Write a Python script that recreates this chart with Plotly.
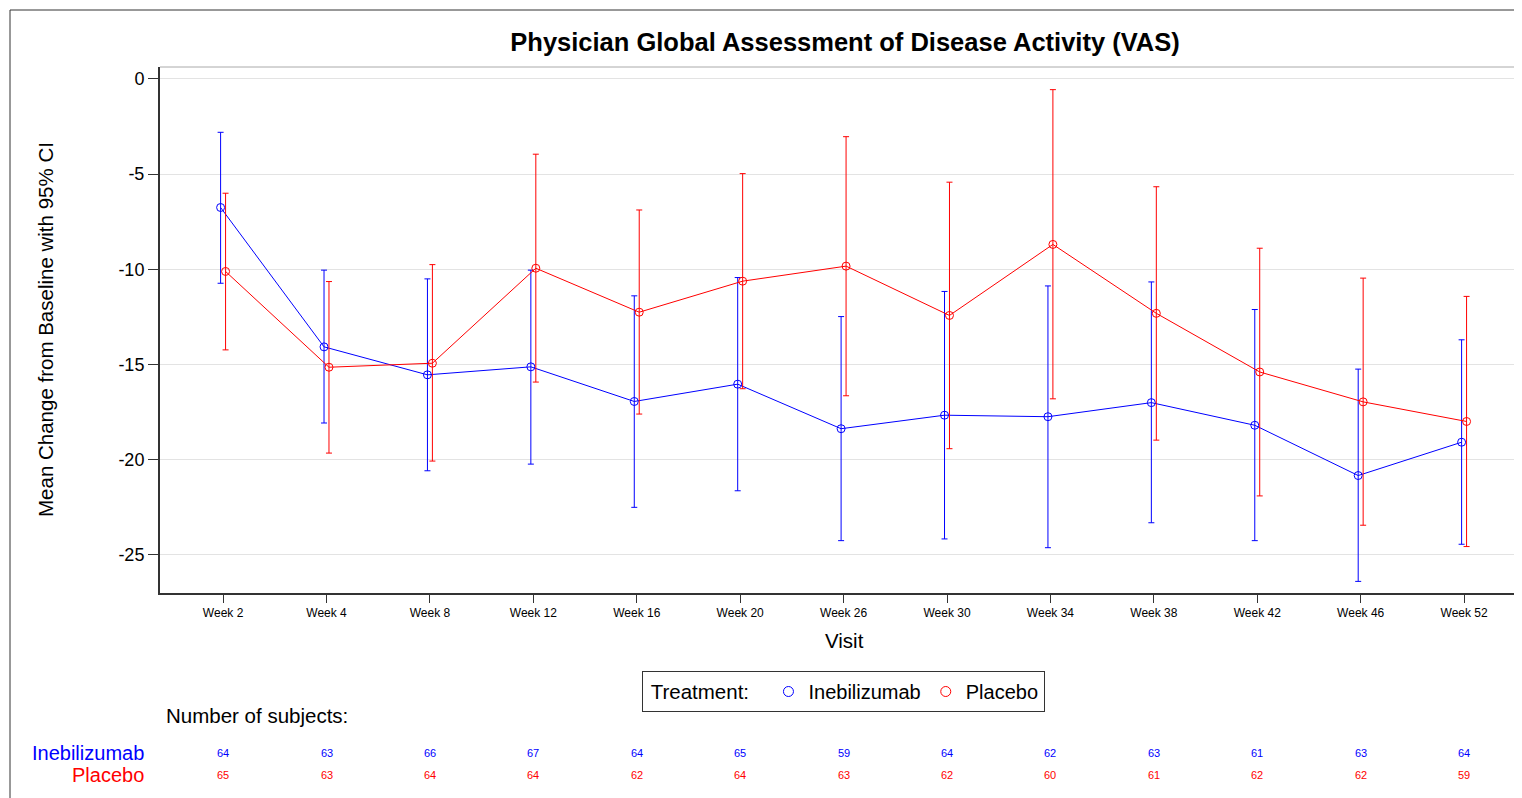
import plotly.graph_objects as go

visits = ["Week 2", "Week 4", "Week 8", "Week 12", "Week 16", "Week 20", "Week 26",
          "Week 30", "Week 34", "Week 38", "Week 42", "Week 46", "Week 52"]

ineb_mean = [-6.75, -14.07, -15.54, -15.12, -16.94, -16.03, -18.37, -17.66, -17.74, -17.0, -18.19, -20.83, -19.08]
ineb_upper = [-2.8, -10.04, -10.5, -10.04, -11.39, -10.43, -12.48, -11.16, -10.87, -10.66, -12.11, -15.24, -13.7]
ineb_lower = [-10.73, -18.07, -20.58, -20.23, -22.5, -21.63, -24.25, -24.16, -24.62, -23.31, -24.25, -26.39, -24.44]

plac_mean = [-10.11, -15.14, -14.93, -9.94, -12.25, -10.62, -9.83, -12.42, -8.69, -12.31, -15.39, -16.96, -17.99]
plac_upper = [-6.0, -10.64, -9.75, -3.95, -6.88, -4.97, -3.03, -5.42, -0.56, -5.66, -8.89, -10.46, -11.42]
plac_lower = [-14.23, -19.65, -20.07, -15.92, -17.6, -16.27, -16.64, -19.42, -16.8, -18.97, -21.9, -23.44, -24.56]

ineb_n = [64, 63, 66, 67, 64, 65, 59, 64, 62, 63, 61, 63, 64]
plac_n = [65, 63, 64, 64, 62, 64, 63, 62, 60, 61, 62, 62, 59]

y_ticks = [0, -5, -10, -15, -20, -25]

BLUE = "#0000FF"
RED = "#FF0000"
FONT = "Arial, Liberation Sans, sans-serif"

# page offset (body margin) and plot area geometry in page pixels
OFF = 8
W, H = 1522 - OFF, 798 - OFF
PL, PR, PT, PB = 160, 1522, 67, 593   # plot area edges in page pixels
L = PL - OFF
T = PT - OFF
R = W - (PR - OFF)
B = H - (PB - OFF)
PW = PR - PL
PH = PB - PT

def px(x):
    return (x - PL) / PW

def py(y):
    return (PB - y) / PH

idx = list(range(len(visits)))
off = 0.024

fig = go.Figure()

fig.add_trace(go.Scatter(
    x=[i - off for i in idx], y=ineb_mean, mode="lines+markers", name="Inebilizumab",
    showlegend=False,
    line=dict(color=BLUE, width=1),
    marker=dict(symbol="circle-open", size=8, color=BLUE, line=dict(width=1)),
    error_y=dict(type="data", symmetric=False,
                 array=[u - m for u, m in zip(ineb_upper, ineb_mean)],
                 arrayminus=[m - l for m, l in zip(ineb_mean, ineb_lower)],
                 color=BLUE, thickness=1, width=3),
))
fig.add_trace(go.Scatter(
    x=[i + off for i in idx], y=plac_mean, mode="lines+markers", name="Placebo",
    showlegend=False,
    line=dict(color=RED, width=1),
    marker=dict(symbol="circle-open", size=8, color=RED, line=dict(width=1)),
    error_y=dict(type="data", symmetric=False,
                 array=[u - m for u, m in zip(plac_upper, plac_mean)],
                 arrayminus=[m - l for m, l in zip(plac_mean, plac_lower)],
                 color=RED, thickness=1, width=3),
))
# legend entries (marker only)
for name, col in [("Inebilizumab", BLUE), ("Placebo", RED)]:
    fig.add_trace(go.Scatter(
        x=[None], y=[None], mode="markers", name=name, showlegend=True,
        marker=dict(symbol="circle-open", size=10, color=col, line=dict(width=1)),
    ))

annotations = []
# Subject counts
for i, (a, b) in enumerate(zip(ineb_n, plac_n)):
    annotations.append(dict(x=i, y=py(753), xref="x", yref="paper", text=str(a), showarrow=False,
                            font=dict(size=11, color=BLUE, family=FONT), xanchor="center", yanchor="middle"))
    annotations.append(dict(x=i, y=py(775), xref="x", yref="paper", text=str(b), showarrow=False,
                            font=dict(size=11, color=RED, family=FONT), xanchor="center", yanchor="middle"))

annotations += [
    dict(x=px(146), y=py(753), xref="paper", yref="paper", text="Inebilizumab", showarrow=False,
         font=dict(size=20, color=BLUE, family=FONT), xanchor="right", yanchor="middle"),
    dict(x=px(146), y=py(775), xref="paper", yref="paper", text="Placebo", showarrow=False,
         font=dict(size=20, color=RED, family=FONT), xanchor="right", yanchor="middle"),
    dict(x=px(164), y=py(715), xref="paper", yref="paper", text="Number of subjects:", showarrow=False,
         font=dict(size=20.5, color="black", family=FONT), xanchor="left", yanchor="middle"),
    dict(x=px(45), y=py(330), xref="paper", yref="paper", text="Mean Change from Baseline with 95% CI",
         showarrow=False, textangle=-90, font=dict(size=20.5, color="black", family=FONT),
         xanchor="center", yanchor="middle"),
    dict(x=px(844), y=py(640), xref="paper", yref="paper", text="Visit", showarrow=False,
         font=dict(size=20.5, color="black", family=FONT), xanchor="center", yanchor="middle"),
]

shapes = [
    # outer frame
    dict(type="line", xref="paper", yref="paper", x0=px(10), x1=px(10), y0=py(10), y1=py(800),
         line=dict(color="#333333", width=1)),
    dict(type="line", xref="paper", yref="paper", x0=px(10), x1=px(1525), y0=py(10), y1=py(10),
         line=dict(color="#333333", width=1)),
    # top plot frame
    dict(type="line", xref="paper", yref="paper", x0=0, x1=1, y0=1, y1=1,
         line=dict(color="#aaaaaa", width=1)),
]

fig.update_layout(
    width=W, height=H, autosize=False,
    margin=dict(l=L, r=R, t=T, b=B, pad=0),
    plot_bgcolor="white", paper_bgcolor="white",
    font=dict(family=FONT, color="black"),
    title=dict(text="<b>Physician Global Assessment of Disease Activity (VAS)</b>",
               x=px(845), xref="paper", xanchor="center", y=1 - (42 - OFF) / H, yref="container",
               yanchor="middle", font=dict(size=25.5, family=FONT, color="black")),
    xaxis=dict(range=[-0.61, 12.56], tickmode="array", tickvals=idx, ticktext=visits,
               showgrid=False, zeroline=False, showline=True, linecolor="#333333", linewidth=2,
               ticks="outside", ticklen=8, tickcolor="#333333", tickwidth=1,
               tickfont=dict(size=12, family=FONT, color="black")),
    yaxis=dict(range=[-27.0, 0.63], tickmode="array", tickvals=y_ticks,
               ticktext=[str(v) for v in y_ticks],
               showgrid=True, gridcolor="#e3e3e3", gridwidth=1, zeroline=False,
               showline=True, linecolor="#333333", linewidth=2,
               ticks="outside", ticklen=10, tickcolor="#333333", tickwidth=1,
               tickfont=dict(size=18, family=FONT, color="black")),
    showlegend=True,
    legend=dict(orientation="h", x=px(843.5), xanchor="center", y=py(671), yanchor="top",
                bordercolor="#333333", borderwidth=1, bgcolor="white",
                title=dict(text="&nbsp;Treatment:&nbsp;&nbsp;", font=dict(size=20.5, family=FONT)),
                font=dict(size=20, family=FONT, color="black"),
                tracegroupgap=0, itemwidth=30),
    annotations=annotations,
    shapes=shapes,
)

fig.write_html("out.html")
